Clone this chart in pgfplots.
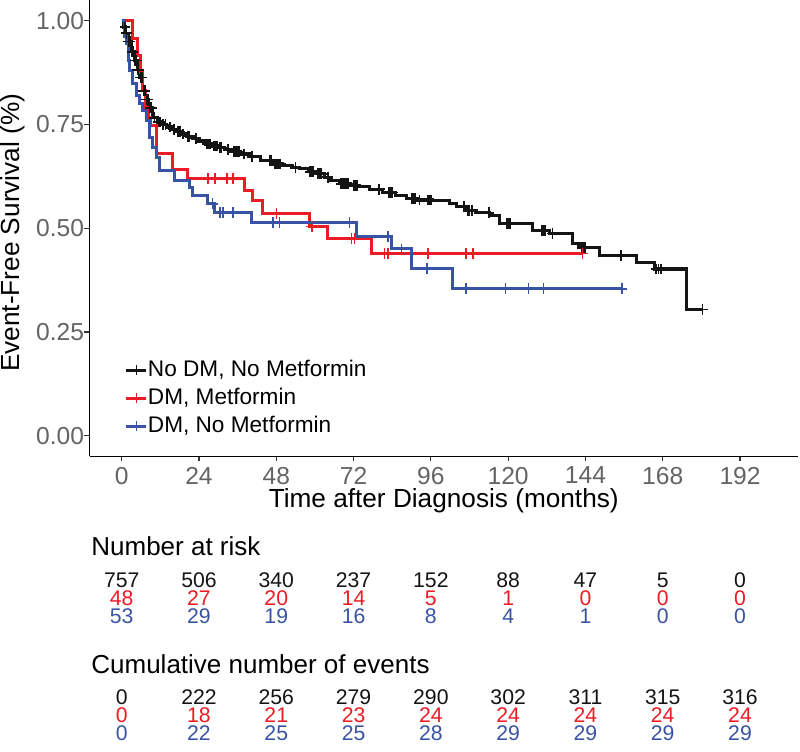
\documentclass[border=0pt]{standalone}
\usepackage{pgfplots}
\pgfplotsset{compat=1.18}
\usepackage{fontspec}
\setmainfont{Liberation Sans}
\definecolor{kmred}{RGB}{237,28,36}
\definecolor{kmblue}{RGB}{57,83,164}
\definecolor{kmblack}{RGB}{20,20,20}
\definecolor{tickgray}{RGB}{100,100,100}

\begin{document}
\begin{tikzpicture}
\useasboundingbox (0,0) rectangle (400bp,376bp);
\begin{axis}[
  at={(44.75bp,147.75bp)}, anchor=south west,
  scale only axis, width=354.25bp, height=228.25bp,
  xmin=-10, xmax=210, ymin=-0.05, ymax=1.05,
  axis x line*=bottom, axis y line*=left,
  axis line style={line width=0.55bp, -},
  xtick={0,24,...,192}, ytick={0,0.25,0.5,0.75,1},
  /pgf/number format/assume math mode=true,
  yticklabel style={/pgf/number format/fixed, /pgf/number format/fixed zerofill, /pgf/number format/precision=2},
  tick align=outside, major tick length=2.5bp,
  tick style={line width=0.55bp, color=black!80},
  ticklabel style={font=\fontsize{12.3bp}{14bp}\selectfont, color=tickgray, inner sep=0pt},
  xticklabel style={anchor=north, yshift=-2.5bp},
  yticklabel style={anchor=east},
  xlabel={Time after Diagnosis (months)},
  ylabel={Event-Free Survival (\%)},
  xlabel style={at={(axis description cs:0.5,-0.1128)}, anchor=base, font=\fontsize{13.1bp}{15bp}\selectfont, inner sep=0pt},
  ylabel style={at={(axis description cs:-0.1087,0.49)}, anchor=center, font=\fontsize{13.1bp}{15bp}\selectfont, inner sep=0pt},
  clip=false,
  legend image code/.code={\draw[#1, line width=1.5bp] (0bp,0bp) -- (10bp,0bp); \draw[#1, line width=0.8bp] (5bp,-2.6bp) -- (5bp,2.6bp);},
  legend cell align=left,
  legend style={draw=none, fill=none, at={(axis description cs:0.0501,0.128)}, anchor=west,
    inner sep=0pt, outer sep=0pt, font=\fontsize{11.3bp}{13bp}\selectfont, row sep=3bp,
    nodes={inner sep=0pt, text height=8.5bp, text depth=2.5bp},
    /tikz/every even column/.append style={column sep=2.5bp}},
]
% No DM, No Metformin
\addplot[const plot, color=kmblack, line width=1.6bp] table {
0 1.000
0.5 0.985
1.2 0.970
2.0 0.950
3.0 0.925
4.0 0.904
4.8 0.882
5.6 0.863
6.5 0.831
7.5 0.810
8.4 0.790
9.6 0.766
11.0 0.756
12.5 0.750
14.0 0.744
15.5 0.738
17.0 0.733
18.5 0.727
20.0 0.722
22.0 0.716
24.0 0.710
26.0 0.703
28.0 0.698
30.0 0.694
32.0 0.689
34.4 0.684
37.0 0.679
40.0 0.672
43.0 0.664
46.9 0.655
50.0 0.651
53.0 0.646
55.2 0.643
58.0 0.636
60.5 0.631
63.0 0.623
65.0 0.615
67.7 0.607
71.0 0.603
73.9 0.600
77.0 0.594
81.0 0.586
85.0 0.578
88.5 0.571
92.0 0.568
96.5 0.566
101.8 0.560
104.0 0.552
107.0 0.542
110.0 0.537
114.2 0.530
117.3 0.512
127.6 0.494
132.8 0.487
140.0 0.463
142.0 0.453
148.4 0.434
159.8 0.417
165.4 0.402
175.4 0.304
180.3 0.304
};
\addlegendentry{No DM, No Metformin}
% DM, Metformin
\addplot[const plot, color=kmred, line width=1.5bp] table {
0 1.000
3.4 0.958
4.8 0.917
5.8 0.875
6.6 0.833
7.4 0.792
8.2 0.766
8.8 0.747
10.9 0.680
15.8 0.641
20.5 0.619
38.2 0.590
40.5 0.566
43.8 0.535
58.3 0.504
63.8 0.475
77.6 0.439
143.1 0.439
};
\addlegendentry{DM, Metformin}
% DM, No Metformin
\addplot[const plot, color=kmblue, line width=1.5bp] table {
0 1.000
1.0 0.962
1.5 0.945
2.0 0.905
2.5 0.880
3.4 0.848
4.5 0.820
5.6 0.800
6.5 0.783
7.8 0.759
8.7 0.718
9.6 0.694
10.9 0.670
11.8 0.639
16.4 0.614
21.0 0.598
22.0 0.578
26.7 0.559
28.9 0.537
40.3 0.513
72.9 0.480
83.8 0.450
90.0 0.403
102.7 0.354
155.3 0.354
};
\addlegendentry{DM, No Metformin}
% censor marks
\addplot[only marks, mark=+, mark size=2.7bp, color=kmblack, mark options={line width=0.85bp}, forget plot] table {
1.0 0.985
1.5 0.970
2.2 0.950
2.5 0.950
3.2 0.925
3.5 0.925
4.2 0.904
4.5 0.904
5.0 0.882
5.2 0.882
5.9 0.863
6.2 0.863
6.8 0.831
7.2 0.831
7.8 0.810
8.1 0.810
8.8 0.790
9.2 0.790
10.2 0.766
11.5 0.756
12.0 0.756
12.8 0.750
13.6 0.750
15.0 0.744
16.2 0.738
17.5 0.733
18.0 0.733
19.0 0.727
20.5 0.722
21.0 0.722
23.0 0.716
26.5 0.703
27.0 0.703
27.5 0.703
28.5 0.698
29.0 0.698
29.5 0.698
30.5 0.694
31.0 0.694
33.0 0.689
34.8 0.684
35.2 0.684
35.6 0.684
36.0 0.684
36.5 0.684
38.0 0.679
40.5 0.672
46.0 0.664
46.5 0.664
47.5 0.655
48.0 0.655
48.5 0.655
49.2 0.655
54.0 0.646
58.5 0.636
59.0 0.636
59.5 0.636
61.0 0.631
61.5 0.631
62.0 0.631
64.0 0.623
68.2 0.607
68.7 0.607
69.2 0.607
69.7 0.607
70.2 0.607
72.0 0.603
72.5 0.603
73.0 0.603
80.0 0.594
83.0 0.586
83.5 0.586
84.0 0.586
90.0 0.571
90.5 0.571
91.0 0.571
92.5 0.568
95.0 0.568
95.5 0.568
96.0 0.568
106.2 0.552
107.5 0.542
108.0 0.542
108.8 0.542
114.0 0.537
119.5 0.512
120.0 0.512
120.5 0.512
130.5 0.494
131.0 0.494
131.5 0.494
133.8 0.487
143.0 0.453
143.5 0.453
144.0 0.453
155.0 0.434
166.0 0.402
166.7 0.402
167.5 0.402
180.3 0.304
};
\addplot[only marks, mark=+, mark size=2.7bp, color=kmred, mark options={line width=0.85bp}, forget plot] table {
26.7 0.619
28.9 0.619
32.6 0.619
34.5 0.619
48.1 0.535
59.0 0.504
71.4 0.475
72.3 0.475
81.6 0.439
82.6 0.439
95.0 0.439
106.8 0.439
109.0 0.439
143.1 0.439
};
\addplot[only marks, mark=+, mark size=2.7bp, color=kmblue, mark options={line width=0.85bp}, forget plot] table {
28.2 0.559
30.5 0.537
31.5 0.537
34.5 0.537
46.9 0.513
49.0 0.513
58.3 0.513
70.7 0.513
82.6 0.480
86.9 0.450
94.7 0.403
106.8 0.354
119.2 0.354
126.3 0.354
131.0 0.354
155.3 0.354
};
\end{axis}
% risk table
\node[anchor=base west, inner sep=0pt, font=\fontsize{13bp}{15bp}\selectfont] at (45.5bp,98bp) {Number at risk};
\foreach \v [count=\i from 0] in {757,506,340,237,152,88,47,5,0}
  \node[anchor=base, inner sep=0pt, text=kmblack, font=\fontsize{10.6bp}{12bp}\selectfont] at ({60.85bp+\i*38.645bp},82.25bp) {\v};
\foreach \v [count=\i from 0] in {48,27,20,14,5,1,0,0,0}
  \node[anchor=base, inner sep=0pt, text=kmred, font=\fontsize{10.6bp}{12bp}\selectfont] at ({60.85bp+\i*38.645bp},73.25bp) {\v};
\foreach \v [count=\i from 0] in {53,29,19,16,8,4,1,0,0}
  \node[anchor=base, inner sep=0pt, text=kmblue, font=\fontsize{10.6bp}{12bp}\selectfont] at ({60.85bp+\i*38.645bp},64.25bp) {\v};
\node[anchor=base west, inner sep=0pt, font=\fontsize{13bp}{15bp}\selectfont] at (45.5bp,39.5bp) {Cumulative number of events};
\foreach \v [count=\i from 0] in {0,222,256,279,290,302,311,315,316}
  \node[anchor=base, inner sep=0pt, text=kmblack, font=\fontsize{10.6bp}{12bp}\selectfont] at ({60.85bp+\i*38.645bp},23.75bp) {\v};
\foreach \v [count=\i from 0] in {0,18,21,23,24,24,24,24,24}
  \node[anchor=base, inner sep=0pt, text=kmred, font=\fontsize{10.6bp}{12bp}\selectfont] at ({60.85bp+\i*38.645bp},14.75bp) {\v};
\foreach \v [count=\i from 0] in {0,22,25,25,28,29,29,29,29}
  \node[anchor=base, inner sep=0pt, text=kmblue, font=\fontsize{10.6bp}{12bp}\selectfont] at ({60.85bp+\i*38.645bp},5.75bp) {\v};
\end{tikzpicture}
\end{document}
